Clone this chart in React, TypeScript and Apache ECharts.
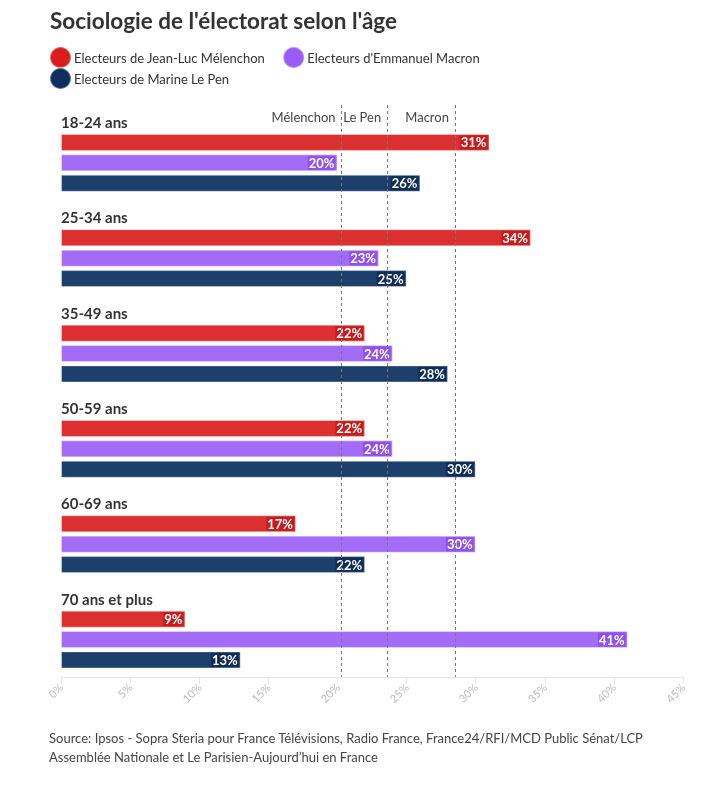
import React, { useEffect, useRef } from "react";
import * as echarts from "echarts";

const categories = ["18-24 ans", "25-34 ans", "35-49 ans", "50-59 ans", "60-69 ans", "70 ans et plus"];
const melenchon = [31, 34, 22, 22, 17, 9];
const macron = [20, 23, 24, 24, 30, 41];
const lepen = [26, 25, 28, 30, 22, 13];
const seriesNames = ["Electeurs de Jean-Luc Mélenchon", "Electeurs d'Emmanuel Macron", "Electeurs de Marine Le Pen"];
const refLines = [
  { name: "Mélenchon", value: 20.3 },
  { name: "Le Pen", value: 23.6 },
  { name: "Macron", value: 28.5 },
];
const xTicks = [0, 45, 5];

const FONT = "'Source Sans Pro', Lato, 'Noto Sans', sans-serif";

export default function App() {
  const ref = useRef<HTMLDivElement>(null);
  useEffect(() => {
    if (!ref.current) return;
    const chart = echarts.init(ref.current, null, { renderer: "svg" });
    const colors = ["#dc2f2f", "#a36cf7", "#1c3f6b"];
    const legendColors = ["#da1c1c", "#9b5cf6", "#0f2e5e"];
    const labelBg = ["#c81c1c", "#9150ee", "#102d57"];
    const datasets = [melenchon, macron, lepen];
    const barSeries = datasets.map((d, i) => ({
      type: "bar",
      name: seriesNames[i],
      data: d,
      barWidth: 17,
      barGap: "20%",
      itemStyle: { color: colors[i], borderColor: "rgba(255,255,255,0.35)", borderWidth: 1 },
      label: {
        show: true,
        position: "insideRight",
        distance: 2,
        formatter: "{c}%",
        color: "#fff",
        fontWeight: "bold",
        fontSize: 13,
        fontFamily: FONT,
        backgroundColor: labelBg[i],
        padding: [1, 1, 0, 1],
      },
      markLine:
        i === 0
          ? {
              silent: true,
              symbol: "none",
              label: { show: false },
              lineStyle: { color: "#777", type: [3, 3], width: 1 },
              data: refLines.map((r) => ({ xAxis: r.value })),
            }
          : undefined,
    }));
    const option: any = {
      animation: false,
      textStyle: { fontFamily: FONT },
      title: {
        text: "Sociologie de l'électorat selon l'âge",
        left: 45,
        top: 4,
        textStyle: { fontSize: 22.5, fontWeight: "bold", color: "#333", fontFamily: FONT },
      },
      legend: [
        {
          data: [seriesNames[0], seriesNames[1]].map((n, i) => ({ name: n, itemStyle: { color: legendColors[i] } })),
          left: 44,
          top: 41,
          icon: "circle",
          itemWidth: 21,
          itemHeight: 21,
          itemGap: 17,
          selectedMode: false,
          textStyle: { fontSize: 13, color: "#333", fontFamily: FONT, padding: [0, 0, 0, -2] },
        },
        {
          data: [{ name: seriesNames[2], itemStyle: { color: legendColors[2] } }],
          left: 44,
          top: 62,
          icon: "circle",
          itemWidth: 21,
          itemHeight: 21,
          selectedMode: false,
          textStyle: { fontSize: 13, color: "#333", fontFamily: FONT, padding: [0, 0, 0, -2] },
        },
      ],
      grid: { left: 61, right: 38, top: 105, bottom: 108 },
      xAxis: {
        type: "value",
        min: xTicks[0],
        max: xTicks[1],
        interval: xTicks[2],
        splitLine: { show: false },
        axisLine: { show: true, lineStyle: { color: "#e6e6e6" } },
        axisTick: { show: true, length: 7, lineStyle: { color: "#e6e6e6" } },
        axisLabel: { formatter: "{value}%", rotate: 45, color: "#bbb", fontSize: 11, fontFamily: FONT, margin: 8 },
      },
      yAxis: {
        type: "category",
        data: categories,
        inverse: true,
        axisLine: { show: false },
        axisTick: { show: false },
        axisLabel: { show: false },
      },
      series: [
        {
          type: "bar",
          name: "labels",
          data: categories.map(() => 0),
          barWidth: 17,
          barGap: "20%",
          itemStyle: { color: "transparent" },
          label: {
            show: true,
            position: "right",
            distance: 0,
            formatter: "{b}",
            color: "#333",
            fontWeight: "bold",
            fontSize: 15,
            fontFamily: FONT,
          },
        },
        ...barSeries,
      ],
    };
    chart.setOption(option);
    const graphics: any[] = refLines.map((r) => {
      const px = chart.convertToPixel({ xAxisIndex: 0 }, r.value) as number;
      return {
        type: "text",
        x: px - 6,
        y: 117,
        style: {
          text: r.name,
          fill: "#444",
          fontSize: 13,
          fontFamily: FONT,
          align: "right",
          verticalAlign: "middle",
        },
      };
    });
    graphics.push({
      type: "text",
      left: 49,
      top: 728,
      style: {
        text:
          "Source: Ipsos - Sopra Steria pour France Télévisions, Radio France, France24/RFI/MCD Public Sénat/LCP\nAssemblée Nationale et Le Parisien-Aujourd’hui en France",
        fill: "#444",
        fontSize: 13,
        lineHeight: 19,
        fontFamily: FONT,
      },
    });
    chart.setOption({ graphic: graphics });
    return () => chart.dispose();
  }, []);
  return <div ref={ref} style={{ position: "fixed", left: 0, top: 0, width: 721, height: 785 }} />;
}
